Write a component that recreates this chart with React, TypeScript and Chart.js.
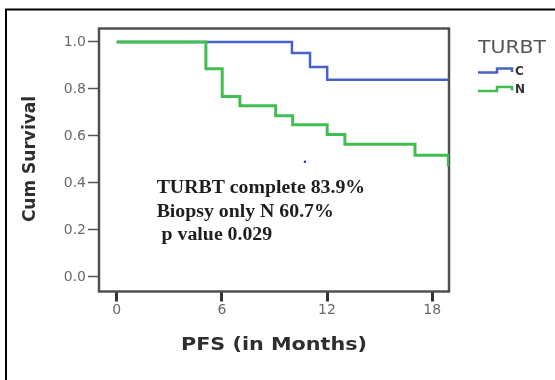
import { useEffect, useRef } from "react";
import { Chart, registerables } from "chart.js";
Chart.register(...registerables);

// ---- data ----
const blueTimes = [0, 10.0, 11.03, 12.01, 19.0];
const blueSurvival = [1, 0.953, 0.893, 0.839, 0.839];
const greenTimes = [0, 5.09, 6.02, 7.03, 9.07, 10.04, 12.01, 13.02, 17.02, 18.92];
const greenSurvival = [1, 0.886, 0.768, 0.728, 0.686, 0.647, 0.606, 0.565, 0.518, 0.47];
const strayTimes = [10.74];
const strayValues = [0.49];
const seriesNames = ["C", "N"];
const seriesColors = ["#4a62c6", "#41be52"];
const legendTitle = "TURBT";
const xTickValues = [0, 6, 12, 18];
const yTickValues = [0, 0.2, 0.4, 0.6, 0.8, 1.0];
const xTitle = "PFS (in Months)";
const yTitle = "Cum Survival";
const noteLines = ["TURBT complete 83.9%", "Biopsy only N 60.7%", " p value 0.029"];

const toPoints = (xs: number[], ys: number[]) => xs.map((x, i) => ({ x, y: ys[i] }));

const decorPlugin = {
  id: "decor",
  beforeDraw(chart: any) {
    const ctx = chart.ctx;
    ctx.save();
    ctx.fillStyle = "#ffffff";
    ctx.fillRect(0, 0, chart.width, chart.height);
    ctx.strokeStyle = "#000000";
    ctx.lineWidth = 2;
    ctx.strokeRect(6, 9.5, 700, 500);
    ctx.restore();
  },
  beforeDatasetsDraw(chart: any) {
    const ctx = chart.ctx;
    const a = chart.chartArea;
    ctx.save();
    ctx.strokeStyle = "#505050";
    ctx.lineWidth = 2.5;
    ctx.strokeRect(a.left, a.top, a.right - a.left, a.bottom - a.top);
    ctx.restore();
  },
  afterDraw(chart: any) {
    const ctx = chart.ctx;
    const a = chart.chartArea;
    const xs = chart.scales.x;
    const ys = chart.scales.y;
    ctx.save();

    // axis titles
    ctx.fillStyle = "#2e2e2e";
    ctx.textAlign = "center";
    ctx.textBaseline = "middle";
    ctx.font = "bold 18px 'DejaVu Sans'";
    ctx.save();
    ctx.translate((a.left + a.right) / 2, 345);
    ctx.scale(1.15, 1);
    ctx.fillText(xTitle, 0, 0);
    ctx.restore();

    ctx.font = "bold 17px 'DejaVu Sans'";
    ctx.save();
    ctx.translate(31, (a.top + a.bottom) / 2 - 1);
    ctx.rotate(-Math.PI / 2);
    ctx.fillText(yTitle, 0, 0);
    ctx.restore();

    // note text
    ctx.fillStyle = "#1e1e1e";
    ctx.textAlign = "left";
    ctx.textBaseline = "alphabetic";
    ctx.font = "bold 18px 'Liberation Serif'";
    const nx = xs.getPixelForValue(2.28);
    const ny = ys.getPixelForValue(0.356);
    noteLines.forEach((line, i) => {
      ctx.save();
      ctx.translate(nx, ny + i * 23.5);
      ctx.scale(1.1, 1);
      ctx.fillText(line, 0, 0);
      ctx.restore();
    });

    // legend
    ctx.fillStyle = "#555555";
    ctx.font = "17px 'DejaVu Sans'";
    ctx.textBaseline = "middle";
    ctx.save();
    ctx.translate(478, 48.5);
    ctx.scale(1.2, 1);
    ctx.fillText(legendTitle, 0, 0);
    ctx.restore();

    seriesNames.forEach((name, i) => {
      const base = 70.5 + i * 18.5;
      ctx.strokeStyle = seriesColors[i];
      ctx.lineWidth = 2.5;
      ctx.beginPath();
      ctx.moveTo(478, base + 2);
      ctx.lineTo(497, base + 2);
      ctx.lineTo(497, base - 2);
      ctx.lineTo(512, base - 2);
      ctx.lineTo(512, base + 1.5);
      ctx.stroke();
      ctx.fillStyle = "#333333";
      ctx.font = "bold 12px 'DejaVu Sans'";
      ctx.fillText(name, 515, base + 1);
    });

    ctx.restore();
  },
};

export default function App() {
  const ref = useRef<HTMLCanvasElement | null>(null);
  useEffect(() => {
    if (!ref.current) return;
    const chart = new Chart(ref.current, {
      type: "line",
      data: {
        datasets: [
          {
            label: seriesNames[1],
            data: toPoints(greenTimes, greenSurvival),
            borderColor: seriesColors[1],
            borderWidth: 3,
            stepped: "before",
            pointRadius: 0,
            fill: false,
            order: 0,
          },
          {
            label: seriesNames[0],
            data: toPoints(blueTimes, blueSurvival),
            borderColor: seriesColors[0],
            borderWidth: 2.5,
            stepped: "before",
            pointRadius: 0,
            fill: false,
            order: 1,
          },
          {
            label: "dot",
            data: toPoints(strayTimes, strayValues),
            showLine: false,
            pointRadius: 1.3,
            pointBorderWidth: 0,
            pointBackgroundColor: "#2233dd",
            order: 2,
          },
        ],
      },
      options: {
        responsive: false,
        animation: false,
        events: [],
        layout: { padding: { left: 0, right: 106, top: 28.5, bottom: 0 } },
        plugins: { legend: { display: false }, tooltip: { enabled: false } },
        scales: {
          x: {
            type: "linear",
            min: -1.01,
            max: 18.96,
            afterFit: (s: any) => {
              s.height = 88.5;
            },
            afterBuildTicks: (s: any) => {
              s.ticks = xTickValues.map((v) => ({ value: v }));
            },
            ticks: {
              color: "#6a6a6a",
              font: { family: "'DejaVu Sans'", size: 14 },
              padding: 0,
              maxRotation: 0,
              callback: (v: any) => String(v),
            },
            grid: {
              drawOnChartArea: false,
              drawTicks: true,
              tickLength: 10,
              tickWidth: 3,
              tickColor: "#333333",
            },
            border: { display: false },
          },
          y: {
            type: "linear",
            min: -0.062,
            max: 1.057,
            afterFit: (s: any) => {
              s.width = 99;
            },
            afterBuildTicks: (s: any) => {
              s.ticks = yTickValues.map((v) => ({ value: v }));
            },
            ticks: {
              color: "#6a6a6a",
              font: { family: "'DejaVu Sans'", size: 14 },
              padding: 2,
              callback: (v: any) => Number(v).toFixed(1),
            },
            grid: {
              drawOnChartArea: false,
              drawTicks: true,
              tickLength: 11,
              tickWidth: 1.5,
              tickColor: "#555555",
            },
            border: { display: false },
          },
        },
      },
      plugins: [decorPlugin],
    });
    return () => chart.destroy();
  }, []);
  return (
    <div style={{ position: "fixed", left: 0, top: 0, width: 555, height: 380, overflow: "hidden" }}>
      <canvas ref={ref} width={555} height={380} style={{ display: "block" }} />
    </div>
  );
}
